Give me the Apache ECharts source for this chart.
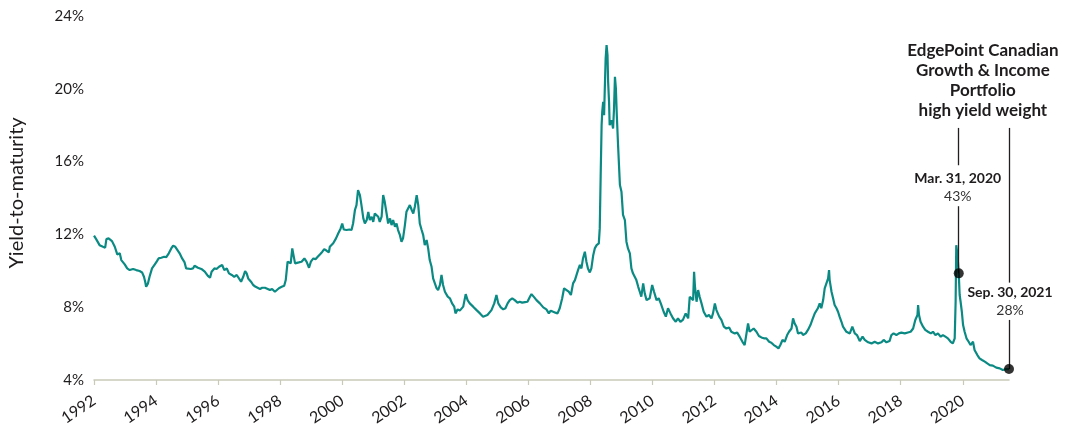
<!DOCTYPE html>
<html>
<head>
<meta charset="utf-8">
<script src="https://cdn.jsdelivr.net/npm/echarts@6/dist/echarts.min.js"></script>
<style>
html,body{margin:0;padding:0;background:#fff;}
#chart{width:1080px;height:431px;}
</style>
</head>
<body>
<div id="chart"></div>
<script>
// Decimal-year positions of the yield observations
const dates = [1992.00,1992.07,1992.18,1992.29,1992.36,1992.40,1992.47,1992.58,1992.67,1992.75,1992.83,1992.88,1992.99,
1993.07,1993.15,1993.26,1993.36,1993.47,1993.55,1993.61,1993.65,1993.68,1993.74,1993.79,1993.87,1993.96,
1994.03,1994.08,1994.17,1994.26,1994.33,1994.41,1994.49,1994.55,1994.62,1994.68,1994.76,1994.84,1994.92,1994.97,
1995.03,1995.12,1995.19,1995.24,1995.35,1995.46,1995.57,1995.67,1995.74,1995.79,1995.88,1995.95,
1996.03,1996.09,1996.13,1996.20,1996.28,1996.35,1996.44,1996.52,1996.60,1996.65,1996.74,1996.81,1996.87,1996.92,1996.97,
1997.06,1997.13,1997.21,1997.27,1997.35,1997.42,1997.51,1997.60,1997.67,1997.74,1997.83,1997.89,1997.96,
1998.05,1998.13,1998.18,1998.24,1998.28,1998.34,1998.39,1998.43,1998.48,1998.53,1998.60,1998.69,1998.78,1998.85,1998.93,1998.99,
1999.07,1999.14,1999.21,1999.28,1999.36,1999.42,1999.50,1999.57,1999.60,1999.71,1999.80,1999.87,1999.95,
2000.00,2000.05,2000.14,2000.23,2000.30,2000.35,2000.41,2000.46,2000.51,2000.57,2000.62,2000.68,2000.73,2000.79,2000.84,2000.89,2000.95,
2001.00,2001.05,2001.11,2001.16,2001.21,2001.27,2001.32,2001.37,2001.43,2001.48,2001.54,2001.59,2001.64,2001.70,2001.75,2001.80,2001.86,2001.91,2001.96,
2002.02,2002.07,2002.13,2002.18,2002.24,2002.29,2002.34,2002.40,2002.45,2002.50,2002.56,2002.61,2002.66,2002.72,2002.77,2002.82,2002.88,2002.93,2002.99,
2003.04,2003.09,2003.15,2003.20,2003.25,2003.31,2003.40,2003.47,2003.54,2003.61,2003.65,2003.72,2003.79,2003.90,2003.98,
2004.04,2004.11,2004.22,2004.33,2004.44,2004.54,2004.60,2004.68,2004.74,2004.81,2004.90,2004.97,
2005.03,2005.11,2005.19,2005.26,2005.33,2005.40,2005.48,2005.56,2005.65,2005.72,2005.80,2005.89,2005.97,
2006.05,2006.10,2006.19,2006.26,2006.37,2006.48,2006.58,2006.66,2006.72,2006.80,2006.87,2006.94,
2007.01,2007.09,2007.15,2007.23,2007.30,2007.37,2007.44,2007.50,2007.55,2007.60,2007.66,2007.71,2007.76,2007.82,2007.87,2007.92,2007.98,
2008.03,2008.09,2008.14,2008.20,2008.27,2008.30,2008.33,2008.36,2008.38,2008.41,2008.44,2008.46,2008.49,2008.52,2008.55,2008.57,2008.60,2008.62,2008.68,2008.73,2008.76,2008.79,2008.82,2008.85,2008.89,2008.95,
2009.00,2009.05,2009.11,2009.16,2009.21,2009.27,2009.32,2009.37,2009.43,2009.48,2009.54,2009.59,2009.64,2009.70,2009.75,2009.81,2009.86,2009.91,2009.99,
2010.05,2010.13,2010.20,2010.27,2010.36,2010.43,2010.50,2010.58,2010.66,2010.75,2010.82,2010.90,2010.98,
2011.07,2011.15,2011.20,2011.26,2011.31,2011.34,2011.37,2011.42,2011.47,2011.52,2011.58,2011.65,2011.74,2011.82,2011.90,2011.95,
2012.01,2012.06,2012.15,2012.22,2012.30,2012.38,2012.47,2012.54,2012.65,2012.73,2012.81,2012.90,2012.97,
2013.03,2013.08,2013.13,2013.19,2013.26,2013.35,2013.43,2013.51,2013.59,2013.67,2013.76,2013.83,2013.91,2013.99,
2014.06,2014.12,2014.19,2014.26,2014.34,2014.40,2014.48,2014.53,2014.58,2014.64,2014.69,2014.75,2014.80,2014.85,2014.94,
2015.01,2015.09,2015.15,2015.23,2015.28,2015.33,2015.39,2015.44,2015.50,2015.55,2015.61,2015.66,2015.69,2015.71,2015.77,2015.82,2015.87,2015.93,2015.98,
2016.03,2016.09,2016.14,2016.20,2016.25,2016.36,2016.44,2016.52,2016.59,2016.68,2016.77,2016.84,2016.95,
2017.06,2017.16,2017.27,2017.38,2017.45,2017.54,2017.64,2017.70,2017.77,2017.86,2017.94,
2018.02,2018.13,2018.23,2018.32,2018.40,2018.47,2018.54,2018.56,2018.59,2018.64,2018.72,2018.79,2018.88,2018.97,
2019.04,2019.12,2019.20,2019.29,2019.36,2019.44,2019.52,2019.61,2019.68,2019.74,2019.77,2019.79,2019.83,2019.87,2019.90,2019.93,2019.97,
2020.01,2020.06,2020.12,2020.19,2020.25,2020.33,2020.38,2020.47,2020.54,2020.62,2020.71,2020.79,2020.87,2020.97,
2021.08,2021.19,2021.29,2021.40,2021.49];

// Yield-to-maturity (%)
const yields = [11.93,11.74,11.41,11.32,11.27,11.74,11.78,11.63,11.32,10.90,10.96,10.59,10.35,
10.13,10.04,10.10,10.04,9.99,9.91,9.67,9.40,9.12,9.31,9.67,10.13,10.35,
10.53,10.68,10.72,10.77,10.75,10.96,11.23,11.38,11.32,11.23,10.96,10.68,10.46,10.13,
10.04,10.10,10.13,10.28,10.17,10.10,9.95,9.72,9.62,9.95,10.13,10.10,
10.22,10.13,10.32,10.04,10.13,9.86,9.77,9.67,9.77,9.67,9.40,9.67,9.99,9.86,9.58,
9.40,9.22,9.12,9.22,9.00,9.07,9.07,9.00,8.94,9.00,8.85,8.89,9.04,
9.12,9.18,9.49,10.50,10.59,10.41,11.23,10.86,10.41,10.50,10.46,10.50,10.68,10.50,10.17,10.50,
10.68,10.64,10.77,10.90,11.05,11.19,11.10,11.01,11.32,11.51,11.78,12.05,12.33,
12.60,12.27,12.24,12.27,12.24,12.60,13.34,13.61,14.43,14.16,13.61,12.88,12.60,12.79,13.24,12.79,12.97,
12.69,13.15,13.19,12.97,12.69,12.97,14.16,13.79,13.15,12.60,12.88,12.51,12.79,12.42,12.60,12.24,11.96,11.60,11.78,
12.51,13.24,13.15,13.61,13.34,13.15,13.52,14.16,13.61,12.60,12.24,11.96,11.41,11.69,11.23,10.59,10.22,9.58,9.49,
9.05,8.94,9.22,9.77,9.22,8.85,8.58,8.49,8.21,8.03,7.66,7.88,7.81,8.03,8.72,
8.39,8.21,8.03,7.84,7.66,7.48,7.39,7.57,7.48,7.84,8.21,8.67,
8.21,7.99,7.88,7.94,8.21,8.39,8.49,8.39,8.25,8.30,8.25,8.28,8.30,
8.57,8.72,8.54,8.39,8.21,7.99,7.88,7.66,7.81,7.75,7.70,7.66,
7.94,8.49,9.04,8.94,8.85,8.67,9.31,9.49,9.40,10.04,10.32,10.13,10.68,11.05,10.50,10.13,9.91,
10.13,10.86,11.23,11.41,11.51,12.33,15.26,18.00,18.73,19.28,18.55,19.83,21.66,22.40,21.85,20.38,19.28,18.00,18.28,17.82,18.91,20.66,20.02,18.55,16.91,14.71,
14.35,13.07,12.79,11.60,11.23,10.96,10.13,9.86,9.77,9.49,9.12,8.85,8.58,9.31,8.76,8.39,8.30,8.49,9.22,
8.85,8.39,8.49,8.20,7.75,7.48,7.94,7.66,7.39,7.20,7.39,7.20,7.30,
7.66,7.39,8.57,8.67,8.39,9.95,9.12,8.30,8.94,8.57,8.21,7.75,7.48,7.57,7.39,7.66,
8.21,7.84,7.48,7.30,6.93,6.83,6.89,6.65,6.56,6.60,6.38,6.10,5.92,
6.56,7.11,6.65,6.75,6.83,6.65,6.42,6.34,6.29,6.29,6.10,6.05,5.92,5.83,
5.74,5.92,6.20,6.10,6.47,6.65,6.83,7.39,7.11,6.93,6.56,6.47,6.61,6.47,6.56,
6.75,7.02,7.30,7.66,7.57,7.94,8.21,7.94,8.39,9.04,9.12,9.58,10.04,9.49,8.85,8.49,8.12,7.94,7.75,
7.48,7.20,6.93,6.83,6.65,6.56,6.93,6.56,6.47,6.14,6.38,6.20,6.07,
6.01,6.10,6.01,6.07,6.20,6.07,6.14,6.47,6.56,6.47,6.56,
6.60,6.56,6.61,6.65,6.83,7.30,7.57,8.12,7.57,7.20,6.93,6.75,6.65,6.56,
6.65,6.47,6.56,6.38,6.47,6.38,6.29,6.10,6.01,6.29,8.30,11.41,10.86,9.86,8.67,8.30,7.75,
7.02,6.65,6.29,6.10,5.92,6.10,5.65,5.37,5.19,5.10,5.01,4.91,4.82,4.79,
4.68,4.64,4.55,4.60,4.60];

const yTicks = [4, 8, 12, 16, 20, 24];
const xTicks = [1992,1994,1996,1998,2000,2002,2004,2006,2008,2010,2012,2014,2016,2018,2020];

// Annotated points
const annotDates  = [2019.87, 2021.49];
const annotYields = [9.86, 4.60];
const annotLabels = ['Mar. 31, 2020', 'Sep. 30, 2021'];
const annotValues = ['43%', '28%'];
const annotTitle = ['EdgePoint Canadian', 'Growth & Income', 'Portfolio', 'high yield weight'];

const FONT = 'Lato, "Noto Sans", sans-serif';
const TEXT = '#1f1c1d';
const TEAL = '#0b8a84';

const chart = echarts.init(document.getElementById('chart'), null, {renderer: 'canvas'});

const series = [{
  type: 'line',
  data: dates.map((d, i) => [d, yields[i]]),
  showSymbol: false,
  symbol: 'none',
  clip: false,
  lineStyle: {color: TEAL, width: 2.2},
  itemStyle: {color: TEAL},
  z: 2
}, {
  type: 'line',
  data: [],
  silent: true,
  markLine: {
    silent: true,
    symbol: ['none', 'none'],
    label: {show: false},
    lineStyle: {color: '#231f20', width: 1.3, type: 'solid'},
    data: [
      [{coord: [annotDates[0], 17.85]}, {coord: [annotDates[0], 15.8]}],
      [{coord: [annotDates[0], 13.55]}, {coord: [annotDates[0], annotYields[0]]}],
      [{coord: [annotDates[1], 17.85]}, {coord: [annotDates[1], 9.35]}],
      [{coord: [annotDates[1], 7.3]}, {coord: [annotDates[1], annotYields[1]]}]
    ]
  },
  z: 3
}, {
  type: 'scatter',
  data: annotDates.map((d, i) => [d, annotYields[i]]),
  symbol: 'circle',
  symbolSize: 10,
  itemStyle: {color: '#000'},
  clip: false,
  z: 5
}];

chart.setOption({
  animation: false,
  backgroundColor: '#fff',
  grid: {left: 94, right: 71, top: 16, bottom: 51, containLabel: false},
  xAxis: {
    type: 'value',
    min: 1992,
    max: annotDates[1],
    interval: 2,
    splitLine: {show: false},
    axisLine: {show: true, lineStyle: {color: '#c9c9b8', width: 1.5}},
    axisTick: {show: true, customValues: xTicks, length: 5, lineStyle: {color: '#c9c9b8', width: 1.2}},
    axisLabel: {
      customValues: xTicks,
      rotate: 34,
      margin: 19,
      color: TEXT,
      fontFamily: FONT,
      fontSize: 16,
      formatter: v => String(Math.round(v))
    }
  },
  yAxis: {
    type: 'value',
    min: 4,
    max: 24,
    interval: 4,
    splitLine: {show: false},
    axisLine: {show: false},
    axisTick: {show: false},
    axisLabel: {
      margin: 10,
      color: TEXT,
      fontFamily: FONT,
      fontSize: 15,
      formatter: v => v + '%'
    }
  },
  series: series
});

// Text annotations positioned from data coordinates
const p0 = chart.convertToPixel({gridIndex: 0}, [annotDates[0], annotYields[0]]);
const p1 = chart.convertToPixel({gridIndex: 0}, [annotDates[1], annotYields[1]]);
const yPx = v => chart.convertToPixel({yAxisIndex: 0}, v);
const midX = (p0[0] + p1[0]) / 2 - 1;

const graphics = [];
annotTitle.forEach((t, i) => {
  graphics.push({
    type: 'text', x: midX, y: 51 + i * 20,
    style: {text: t, fill: TEXT, font: 'bold 17px ' + FONT, textAlign: 'center', textVerticalAlign: 'middle'}
  });
});
const labelY = [yPx(14.6), yPx(8.3)];
[p0, p1].forEach((p, i) => {
  graphics.push({
    type: 'text', x: p[0] + (i === 0 ? -1 : 1), y: labelY[i] - 9,
    style: {text: annotLabels[i], fill: TEXT, font: 'bold 14px ' + FONT, textAlign: 'center', textVerticalAlign: 'middle'}
  });
  graphics.push({
    type: 'text', x: p[0] + (i === 0 ? -1 : 1), y: labelY[i] + 9,
    style: {text: annotValues[i], fill: '#333', font: '14px ' + FONT, textAlign: 'center', textVerticalAlign: 'middle'}
  });
});
graphics.push({
  type: 'text', x: 17, y: 193, rotation: Math.PI / 2,
  style: {text: 'Yield-to-maturity', fill: TEXT, font: '20px ' + FONT, textAlign: 'center', textVerticalAlign: 'middle'}
});
chart.setOption({graphic: graphics});
</script>
</body>
</html>
